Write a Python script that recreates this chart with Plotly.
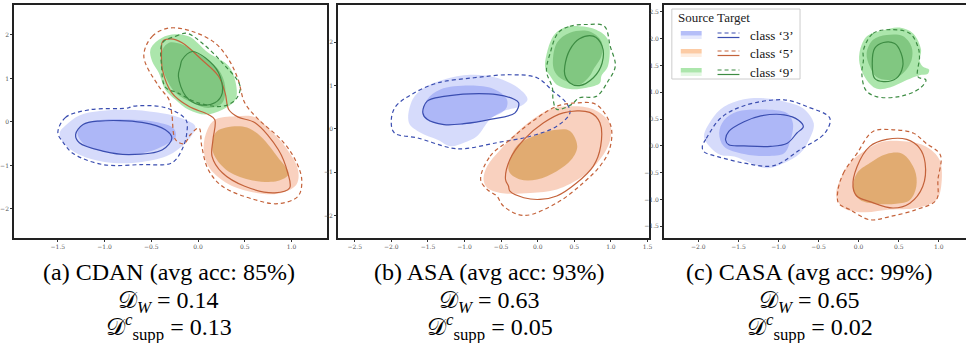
import plotly.graph_objects as go

W, H = 969, 343

# ---------------- data (contour outlines) ----------------
# Panel (a) CDAN
cdan_3_src_outer = [(-1.48,-0.25),(-1.40,-0.05),(-1.27,0.15),(-1.05,0.25),(-0.75,0.28),(-0.45,0.22),(-0.20,0.10),(-0.03,-0.10),(-0.08,-0.35),(-0.30,-0.75),(-0.60,-0.92),(-1.00,-0.92),(-1.30,-0.72),(-1.45,-0.45)]
cdan_3_src_inner = [(-1.29,-0.25),(-1.20,-0.03),(-1.02,0.05),(-0.70,0.05),(-0.45,0.0),(-0.26,-0.15),(-0.24,-0.35),(-0.38,-0.56),(-0.60,-0.72),(-0.95,-0.70),(-1.20,-0.55)]
cdan_3_tgt_outer = [(-1.50,-0.25),(-1.42,0.10),(-1.16,0.28),(-0.75,0.32),(-0.70,0.36),(-0.35,0.33),(-0.13,0.05),(-0.12,-0.25),(-0.17,-0.63),(-0.28,-0.94),(-0.60,-0.98),(-1.02,-0.98),(-1.34,-0.72),(-1.45,-0.45)]
cdan_3_tgt_inner = [(-1.31,-0.29),(-1.23,-0.06),(-1.06,0.02),(-0.60,-0.01),(-0.35,-0.18),(-0.28,-0.37),(-0.38,-0.64),(-0.74,-0.75),(-1.02,-0.67),(-1.27,-0.48)]
cdan_5_src_outer = [(0.18,0.05),(0.40,0.13),(0.61,0.11),(0.80,-0.25),(0.93,-0.56),(1.07,-1.10),(1.05,-1.45),(0.85,-1.65),(0.55,-1.60),(0.30,-1.40),(0.11,-1.02),(0.06,-0.60),(0.10,-0.18)]
cdan_5_src_inner = [(0.20,-0.22),(0.30,-0.13),(0.45,-0.10),(0.55,-0.15),(0.68,-0.35),(0.85,-0.80),(0.97,-1.20),(0.85,-1.36),(0.55,-1.33),(0.30,-1.10),(0.16,-0.70),(0.16,-0.40)]
cdan_5_tgt_outer = [(-0.58,1.51),(-0.49,1.97),(-0.31,2.16),(-0.06,2.08),(0.18,1.82),(0.33,1.43),(0.43,0.97),(0.50,0.44),(0.65,0.05),(0.89,-0.41),(1.04,-0.87),(1.11,-1.33),(1.07,-1.71),(0.86,-1.88),(0.61,-1.79),(0.26,-1.48),(0.11,-1.10),(0.04,-0.56),(0.01,-0.14),(-0.08,-0.29),(-0.15,-0.50),(-0.24,-0.41),(-0.28,0.17),(-0.31,0.51),(-0.42,0.82)]
cdan_5_tgt_inner = [(-0.38,1.85),(-0.29,1.91),(-0.17,1.82),(0.04,1.43),(0.22,1.05),(0.29,0.67),(0.33,0.28),(0.43,0.11),(0.61,-0.02),(0.86,-0.64),(0.96,-1.17),(0.98,-1.52),(0.82,-1.63),(0.50,-1.48),(0.26,-1.17),(0.15,-0.79),(0.16,-0.41),(0.18,0.05),(0.11,0.17),(-0.10,0.36),(-0.28,0.67),(-0.38,1.20),(-0.39,1.66)]
cdan_9_src_outer = [(-0.51,1.66),(-0.42,1.89),(-0.28,2.01),(-0.10,1.97),(0.11,1.59),(0.33,1.28),(0.41,0.82),(0.40,0.51),(0.26,0.28),(0.08,0.17),(-0.10,0.28),(-0.24,0.51),(-0.35,0.74),(-0.42,1.13),(-0.49,1.39)]
cdan_9_src_inner = [(-0.38,1.66),(-0.31,1.82),(-0.17,1.78),(0.04,1.51),(0.22,1.20),(0.29,0.82),(0.26,0.44),(0.11,0.32),(-0.06,0.44),(-0.24,0.67),(-0.35,1.05),(-0.39,1.43)]
cdan_9_tgt_outer = [(-0.38,1.82),(-0.24,1.97),(-0.12,2.04),(0.04,1.82),(0.26,1.36),(0.45,0.82),(0.40,0.51),(0.26,0.36),(0.0,0.44),(-0.22,0.67),(-0.35,0.80),(-0.39,1.28)]
cdan_9_tgt_inner = [(-0.17,1.43),(-0.06,1.62),(0.08,1.47),(0.22,1.13),(0.26,0.67),(0.18,0.44),(0.01,0.40),(-0.13,0.59),(-0.21,1.05),(-0.19,1.28)]

# Panel (b) ASA
asa_3_src_outer = [(-1.76,0.14),(-1.71,0.68),(-1.55,0.95),(-1.28,1.14),(-0.92,1.25),(-0.56,1.18),(-0.24,0.91),(-0.14,0.68),(-0.24,0.52),(-0.47,0.41),(-0.65,0.22),(-0.83,-0.17),(-1.01,-0.32),(-1.19,-0.40),(-1.37,-0.25),(-1.60,-0.09)]
asa_3_src_inner = [(-1.57,0.37),(-1.51,0.68),(-1.33,0.91),(-0.92,1.0),(-0.60,0.92),(-0.42,0.68),(-0.44,0.45),(-0.65,0.25),(-1.01,0.10),(-1.37,0.12),(-1.53,0.22)]
asa_3_tgt_outer = [(-2.00,0.22),(-1.94,0.52),(-1.73,0.79),(-1.37,1.06),(-0.87,1.18),(-0.38,1.25),(-0.01,1.18),(0.21,0.87),(0.39,0.60),(0.44,0.37),(0.26,0.06),(-0.10,-0.17),(-0.56,-0.32),(-1.01,-0.46),(-1.19,-0.44),(-1.64,-0.21),(-1.96,-0.09)]
asa_3_tgt_inner = [(-1.57,0.37),(-1.51,0.64),(-1.28,0.75),(-0.92,0.81),(-0.56,0.79),(-0.33,0.69),(-0.26,0.60),(-0.31,0.37),(-0.65,0.22),(-1.01,0.12),(-1.28,0.10),(-1.51,0.22)]
asa_5_src_outer = [(-0.74,-1.17),(-0.69,-0.86),(-0.51,-0.48),(-0.19,0.06),(0.17,0.45),(0.44,0.52),(0.76,0.45),(0.98,0.14),(0.99,-0.25),(0.85,-0.71),(0.62,-1.09),(0.26,-1.40),(-0.10,-1.48),(-0.51,-1.48),(-0.69,-1.36)]
asa_5_src_inner = [(-0.40,-0.86),(-0.29,-0.40),(-0.06,-0.17),(0.26,-0.02),(0.44,-0.05),(0.54,-0.40),(0.46,-0.71),(0.26,-0.98),(-0.01,-1.17),(-0.24,-1.17),(-0.38,-1.02)]
asa_5_tgt_outer = [(-0.78,-1.17),(-0.65,-0.63),(-0.38,-0.25),(-0.10,0.14),(0.26,0.52),(0.53,0.60),(0.80,0.56),(1.00,0.06),(0.98,-0.48),(0.85,-0.86),(0.62,-1.25),(0.26,-1.71),(-0.19,-2.00),(-0.47,-1.78),(-0.56,-1.55),(-0.69,-1.40)]
asa_5_tgt_inner = [(-0.44,-1.17),(-0.38,-0.71),(-0.19,-0.25),(0.08,0.14),(0.35,0.37),(0.71,0.38),(0.85,0.14),(0.86,-0.40),(0.76,-0.86),(0.53,-1.25),(0.26,-1.55),(0.03,-1.63),(-0.19,-1.59),(-0.38,-1.44),(-0.40,-1.32)]
asa_9_src_outer = [(0.10,1.52),(0.21,2.14),(0.35,2.33),(0.57,2.37),(0.80,2.29),(0.96,2.06),(0.96,1.45),(0.87,1.22),(0.85,1.06),(0.67,0.95),(0.44,0.92),(0.26,1.02),(0.17,1.22),(0.11,1.37)]
asa_9_src_inner = [(0.21,1.45),(0.26,1.98),(0.44,2.22),(0.71,2.25),(0.87,2.02),(0.87,1.68),(0.76,1.37),(0.71,1.22),(0.57,1.02),(0.39,1.10),(0.26,1.25)]
asa_9_tgt_outer = [(0.28,2.22),(0.44,2.37),(0.67,2.41),(0.91,2.37),(0.99,1.91),(1.06,1.45),(0.96,1.10),(0.80,0.75),(0.57,0.72),(0.46,0.56),(0.26,0.45),(0.21,0.68),(0.20,0.95),(0.12,1.33),(0.17,1.75)]
asa_9_tgt_inner = [(0.37,1.45),(0.44,1.83),(0.57,2.08),(0.76,2.14),(0.88,1.91),(0.88,1.52),(0.76,1.18),(0.57,1.0),(0.44,1.06),(0.37,1.25)]

# Panel (c) CASA
casa_3_src_outer = [(-1.93,0.17),(-1.84,0.48),(-1.68,0.73),(-1.43,0.87),(-1.18,0.89),(-0.93,0.83),(-0.69,0.70),(-0.56,0.42),(-0.60,0.17),(-0.73,-0.14),(-0.93,-0.32),(-1.14,-0.42),(-1.35,-0.32),(-1.55,-0.20),(-1.72,-0.17),(-1.86,-0.01)]
casa_3_src_inner = [(-1.74,0.24),(-1.68,0.48),(-1.51,0.64),(-1.22,0.68),(-0.89,0.61),(-0.82,0.42),(-0.85,0.11),(-0.93,-0.14),(-1.14,-0.19),(-1.43,-0.15),(-1.68,-0.01)]
casa_3_tgt_outer = [(-1.95,-0.01),(-1.90,0.14),(-1.72,0.52),(-1.43,0.75),(-0.93,0.86),(-0.64,0.73),(-0.36,0.52),(-0.42,0.24),(-0.73,-0.07),(-1.06,-0.37),(-1.43,-0.32),(-1.76,-0.20),(-1.93,-0.11)]
casa_3_tgt_inner = [(-1.66,0.11),(-1.62,0.27),(-1.43,0.45),(-1.22,0.56),(-0.93,0.58),(-0.75,0.48),(-0.69,0.36),(-0.77,0.24),(-0.89,0.05),(-1.10,-0.01),(-1.43,0.0),(-1.62,0.02)]
casa_5_src_outer = [(-0.28,-0.94),(-0.23,-0.63),(-0.11,-0.32),(0.10,-0.07),(0.31,0.08),(0.60,0.08),(0.84,-0.01),(1.01,-0.26),(1.03,-0.76),(0.97,-1.01),(0.72,-1.16),(0.39,-1.19),(0.06,-1.24),(-0.19,-1.16)]
casa_5_src_inner = [(-0.07,-0.82),(-0.02,-0.51),(0.14,-0.32),(0.35,-0.15),(0.55,-0.15),(0.70,-0.45),(0.72,-0.76),(0.64,-1.01),(0.47,-1.08),(0.22,-1.08),(0.02,-1.01)]
casa_5_tgt_outer = [(-0.26,-0.85),(-0.19,-0.51),(-0.02,-0.14),(0.18,0.27),(0.43,0.30),(0.68,0.24),(0.84,0.05),(1.02,-0.17),(0.99,-0.63),(0.97,-1.01),(0.72,-1.19),(0.39,-1.32),(0.14,-1.38),(-0.11,-1.19),(-0.25,-1.07)]
casa_5_tgt_inner = [(-0.07,-0.76),(-0.02,-0.39),(0.14,-0.01),(0.35,0.12),(0.60,0.12),(0.76,-0.04),(0.83,-0.32),(0.80,-0.76),(0.64,-1.07),(0.43,-1.16),(0.14,-1.04),(-0.02,-0.94)]
casa_9_src_outer = [(0.01,1.73),(0.10,2.04),(0.31,2.16),(0.51,2.21),(0.68,2.10),(0.78,1.79),(0.76,1.60),(0.80,1.48),(0.88,1.42),(0.86,1.34),(0.76,1.32),(0.60,1.23),(0.39,1.09),(0.22,1.07),(0.10,1.23),(0.02,1.48)]
casa_9_src_inner = [(0.10,1.73),(0.18,1.98),(0.35,2.07),(0.55,2.05),(0.66,1.85),(0.66,1.60),(0.55,1.35),(0.39,1.23),(0.22,1.29),(0.14,1.48)]
casa_9_tgt_outer = [(0.06,1.79),(0.18,2.10),(0.39,2.17),(0.64,2.10),(0.74,1.85),(0.76,1.66),(0.74,1.29),(0.84,1.23),(0.76,1.07),(0.51,0.92),(0.22,0.92),(0.09,1.04),(0.04,1.35),(0.06,1.60)]
casa_9_tgt_inner = [(0.17,1.54),(0.20,1.82),(0.31,1.93),(0.45,1.91),(0.53,1.73),(0.55,1.48),(0.47,1.26),(0.31,1.20),(0.20,1.26)]

class_names = ["3", "5", "9"]
caption_titles = ["(a) CDAN (avg acc: 85%)", "(b) ASA (avg acc: 93%)", "(c) CASA (avg acc: 99%)"]
dw_values = ["0.14", "0.63", "0.65"]
dsupp_values = ["0.13", "0.05", "0.02"]

panels = [
    {"3": (cdan_3_src_outer, cdan_3_src_inner, cdan_3_tgt_outer, cdan_3_tgt_inner),
     "5": (cdan_5_src_outer, cdan_5_src_inner, cdan_5_tgt_outer, cdan_5_tgt_inner),
     "9": (cdan_9_src_outer, cdan_9_src_inner, cdan_9_tgt_outer, cdan_9_tgt_inner)},
    {"3": (asa_3_src_outer, asa_3_src_inner, asa_3_tgt_outer, asa_3_tgt_inner),
     "5": (asa_5_src_outer, asa_5_src_inner, asa_5_tgt_outer, asa_5_tgt_inner),
     "9": (asa_9_src_outer, asa_9_src_inner, asa_9_tgt_outer, asa_9_tgt_inner)},
    {"3": (casa_3_src_outer, casa_3_src_inner, casa_3_tgt_outer, casa_3_tgt_inner),
     "5": (casa_5_src_outer, casa_5_src_inner, casa_5_tgt_outer, casa_5_tgt_inner),
     "9": (casa_9_src_outer, casa_9_src_inner, casa_9_tgt_outer, casa_9_tgt_inner)},
]

# ---------------- styles ----------------
fill_outer = {"3": "rgba(90,110,240,0.25)", "5": "rgba(240,140,95,0.40)", "9": "rgba(70,200,70,0.45)"}
fill_inner = {"3": "rgba(90,110,240,0.33)", "5": "rgba(205,140,50,0.55)", "9": "rgba(50,140,50,0.35)"}
legend_top = {"3": "rgba(90,110,240,0.45)", "5": "rgba(250,160,90,0.55)", "9": "rgba(70,200,70,0.45)"}
legend_bot = {"3": "rgba(90,110,240,0.15)", "5": "rgba(250,160,90,0.18)", "9": "rgba(70,200,70,0.15)"}
line_col = {"3": "#3a4db0", "5": "#c4623a", "9": "#3d8c43"}

px_x = [(11, 326), (337, 650), (665, 969)]
x_ranges = [(-1.97, 1.38), (-2.73, 1.52), (-2.43, 1.34)]
y_ranges = [(-2.67, 2.69), (-2.52, 2.86), (-1.72, 2.63)]
x_ticks = [[-1.5, -1.0, -0.5, 0.0, 0.5, 1.0], [-2.5, -2.0, -1.5, -1.0, -0.5, 0.0, 0.5, 1.0, 1.5], [-2.0, -1.5, -1.0, -0.5, 0.0, 0.5, 1.0]]
y_ticks = [[-2, -1, 0, 1, 2], [-2, -1, 0, 1, 2], [-1.5, -1.0, -0.5, 0.0, 0.5, 1.0, 1.5, 2.0, 2.5]]
y_fmt = ["d", "d", ".1f"]

fig = go.Figure()


def closed(pts):
    xs = [p[0] for p in pts] + [pts[0][0]]
    ys = [p[1] for p in pts] + [pts[0][1]]
    return xs, ys


for i, pan in enumerate(panels):
    xa = "x" if i == 0 else f"x{i+1}"
    ya = "y" if i == 0 else f"y{i+1}"
    for c in class_names:
        so, si, to, ti = pan[c]
        for pts, col in ((so, fill_outer[c]), (si, fill_inner[c])):
            xs, ys = closed(pts)
            fig.add_trace(go.Scatter(x=xs, y=ys, xaxis=xa, yaxis=ya, mode="lines", fill="toself",
                                     fillcolor=col, line=dict(width=0, shape="spline", smoothing=1.0),
                                     hoverinfo="skip", showlegend=False))
    for c in class_names:
        so, si, to, ti = pan[c]
        for pts, dash in ((to, "4px,3px"), (ti, "solid")):
            xs, ys = closed(pts)
            fig.add_trace(go.Scatter(x=xs, y=ys, xaxis=xa, yaxis=ya, mode="lines",
                                     line=dict(color=line_col[c], width=1.2, dash=dash, shape="spline", smoothing=1.0),
                                     hoverinfo="skip", showlegend=False))

y_dom = [1 - 238 / H, 1 - 5 / H]
layout = dict(width=W, height=H, margin=dict(l=0, r=0, t=0, b=0),
              paper_bgcolor="white", plot_bgcolor="white", showlegend=False)
for i in range(3):
    sx = "" if i == 0 else str(i + 1)
    layout["xaxis" + sx] = dict(domain=[px_x[i][0] / W, px_x[i][1] / W], range=list(x_ranges[i]),
                                anchor="y" + sx, showgrid=False, zeroline=False,
                                showline=True, mirror=True, linecolor="#222", linewidth=1.5,
                                ticks="outside", ticklen=2, tickwidth=0.8, tickcolor="#333",
                                tickvals=x_ticks[i], tickformat=".1f",
                                tickfont=dict(family="DejaVu Serif", size=6, color="#555"))
    layout["yaxis" + sx] = dict(domain=y_dom, range=list(y_ranges[i]),
                                anchor="x" + sx, showgrid=False, zeroline=False,
                                showline=True, mirror=(i < 2), linecolor="#222", linewidth=1.5,
                                ticks="outside", ticklen=2, tickwidth=0.8, tickcolor="#333",
                                tickvals=y_ticks[i], tickformat=y_fmt[i],
                                tickfont=dict(family="DejaVu Serif", size=6, color="#555"))
fig.update_layout(**layout)

# ---------------- captions ----------------
cap_x = [167, 490, 812]
serif = "Liberation Serif"
for i in range(3):
    cx = cap_x[i] / W
    fig.add_annotation(x=cx, y=1 - 272 / H, xref="paper", yref="paper", text=caption_titles[i],
                       showarrow=False, font=dict(family=serif, size=24, color="black"), xanchor="center", yanchor="middle")
    fig.add_annotation(x=cx, y=1 - 302 / H, xref="paper", yref="paper",
                       text="𝒟<sub><i>W</i></sub> = " + dw_values[i],
                       showarrow=False, font=dict(family=serif, size=24, color="black"), xanchor="center", yanchor="middle")
    fig.add_annotation(x=cx, y=1 - 327 / H, xref="paper", yref="paper",
                       text="𝒟<sup><i>c</i></sup><sub>supp</sub> = " + dsupp_values[i],
                       showarrow=False, font=dict(family=serif, size=24, color="black"), xanchor="center", yanchor="middle")

# ---------------- custom legend (panel c) ----------------
fig.add_shape(type="rect", xref="paper", yref="paper", x0=673 / W, x1=802 / W, y0=1 - 79 / H, y1=1 - 9 / H,
              line=dict(color="#cccccc", width=1), fillcolor="rgba(255,255,255,0.85)", layer="above")
fig.add_annotation(x=677 / W, y=1 - 17 / H, xref="paper", yref="paper", text="Source Target", showarrow=False,
                   font=dict(family=serif, size=13, color="#222"), xanchor="left", yanchor="middle")
row_y = [35, 53, 72]
for k, c in enumerate(class_names):
    yy = row_y[k]
    fig.add_shape(type="rect", xref="paper", yref="paper", x0=682 / W, x1=703 / W,
                  y0=1 - (yy + 0.5) / H, y1=1 - (yy - 4) / H, line=dict(width=0), fillcolor=legend_top[c], layer="above")
    fig.add_shape(type="rect", xref="paper", yref="paper", x0=682 / W, x1=703 / W,
                  y0=1 - (yy + 4) / H, y1=1 - (yy + 0.5) / H, line=dict(width=0), fillcolor=legend_bot[c], layer="above")
    fig.add_shape(type="line", xref="paper", yref="paper", x0=719 / W, x1=741 / W, y0=1 - (yy - 2) / H, y1=1 - (yy - 2) / H,
                  line=dict(color=line_col[c], width=1.2, dash="4px,3px"), layer="above")
    fig.add_shape(type="line", xref="paper", yref="paper", x0=719 / W, x1=741 / W, y0=1 - (yy + 2.5) / H, y1=1 - (yy + 2.5) / H,
                  line=dict(color=line_col[c], width=1.2), layer="above")
    fig.add_annotation(x=750 / W, y=1 - yy / H, xref="paper", yref="paper", text="class ‘" + c + "’", showarrow=False,
                       font=dict(family=serif, size=13, color="#111"), xanchor="left", yanchor="middle")

fig.write_html("out.html", config={"displayModeBar": False},
               post_script="document.body.style.margin='0';document.body.style.overflow='hidden';")
